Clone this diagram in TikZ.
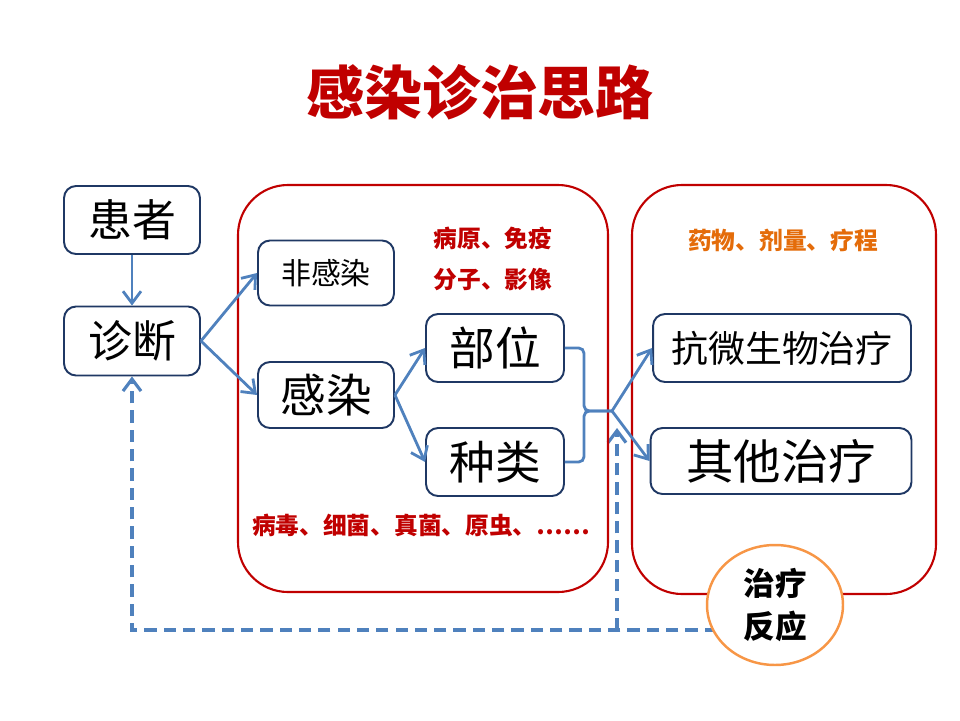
\documentclass[tikz,border=0pt]{standalone}
\usepackage{fontspec}
\setmainfont{Noto Sans CJK SC}
\usepackage{tikz}
\usetikzlibrary{shapes.geometric,arrows.meta,backgrounds}
\definecolor{boxnavy}{RGB}{31,56,100}
\definecolor{linkblue}{RGB}{79,129,189}
\definecolor{framered}{RGB}{192,0,0}
\definecolor{respor}{RGB}{247,150,70}
\definecolor{noteor}{RGB}{228,108,10}

\begin{document}
\begin{tikzpicture}[x=0.02cm,y=-0.02cm,
    box/.style={draw=boxnavy,line width=1.1pt,rounded corners=0.24cm,fill=white,inner sep=0pt,align=center},
    frame/.style={draw=framered,line width=1.2pt,rounded corners=1cm},
    wire/.style={linkblue,line width=1.6pt},
    link/.style={wire,-{Straight Barb[length=2.4mm,width=3.6mm]}},
    feedback/.style={linkblue,line width=1.8pt,dash pattern=on 7pt off 4pt,-{Straight Barb[length=2.4mm,width=3.6mm]}},
    note/.style={font=\fontsize{13.5}{16}\selectfont\bfseries,text=framered}]
    \useasboundingbox (0,0) rectangle (960,720);

    % title
    \node[font=\fontsize{33}{38}\selectfont\bfseries,text=framered] (title) at (480,92) {感染诊治思路};

    % the two red frames
    \draw[frame] (238,185) rectangle (608,592);
    \draw[frame] (632,185) rectangle (936,594);

    % boxes
    \node[box,minimum width=2.72cm,minimum height=1.36cm,font=\fontsize{25}{30}\selectfont] (pat) at (132,220) {患者};
    \node[box,minimum width=2.72cm,minimum height=1.38cm,font=\fontsize{25}{30}\selectfont] (diag) at (132,341) {诊断};
    \node[box,minimum width=2.72cm,minimum height=1.30cm,font=\fontsize{17}{20}\selectfont] (noninf) at (326,273) {非感染};
    \node[box,minimum width=2.72cm,minimum height=1.32cm,font=\fontsize{26}{30}\selectfont] (inf) at (326,395) {感染};
    \node[box,minimum width=2.76cm,minimum height=1.36cm,font=\fontsize{26}{30}\selectfont] (site) at (495,348) {部位};
    \node[box,minimum width=2.76cm,minimum height=1.36cm,font=\fontsize{26}{30}\selectfont] (kind) at (495,462) {种类};
    \node[box,minimum width=5.16cm,minimum height=1.36cm,font=\fontsize{21}{25}\selectfont] (anti) at (782,348) {抗微生物治疗};
    \node[box,minimum width=5.22cm,minimum height=1.32cm,font=\fontsize{27}{32}\selectfont] (other) at (781,461) {其他治疗};

    % notes
    \node[note] (pathogen) at (493,238) {病原、免疫};
    \node[note] (imaging) at (493,280) {分子、影像};
    \node[note] (species) at (421,525) {病毒、细菌、真菌、原虫、……};
    \node[note,text=noteor] (drug) at (783,240) {药物、剂量、疗程};

    % connectors
    \draw[link] (pat) -- (diag);
    \draw[link] (diag.east) -- (noninf.west);
    \draw[link] (diag.east) -- (inf.west);
    \draw[link] (inf.east) -- (site.west);
    \draw[link] (inf.east) -- (kind.west);
    \coordinate (merge) at (612,411);
    \draw[wire,rounded corners=3pt] (site.east) -- (584,348) |- (merge);
    \draw[wire,rounded corners=3pt] (kind.east) -- (584,462) |- (merge);
    \draw[link] (merge) -- (anti.west);
    \draw[link] (merge) -- (other.west);

    % response and feedback
    \node[ellipse,draw=respor,line width=1.4pt,fill=white,minimum width=2.72cm,minimum height=2.4cm,
          align=center,font=\fontsize{18}{24}\selectfont\bfseries] (resp) at (775,605) {治疗\\反应};
    \coordinate (fbrow) at (0,630);
    \coordinate (fbtip) at (617,428);
    \begin{scope}[on background layer]
        \draw[feedback] (resp.center |- fbrow) -- (diag.south |- fbrow) -- (diag.south);
        \draw[feedback] (fbtip |- fbrow) -- (fbtip);
    \end{scope}
\end{tikzpicture}
\end{document}
